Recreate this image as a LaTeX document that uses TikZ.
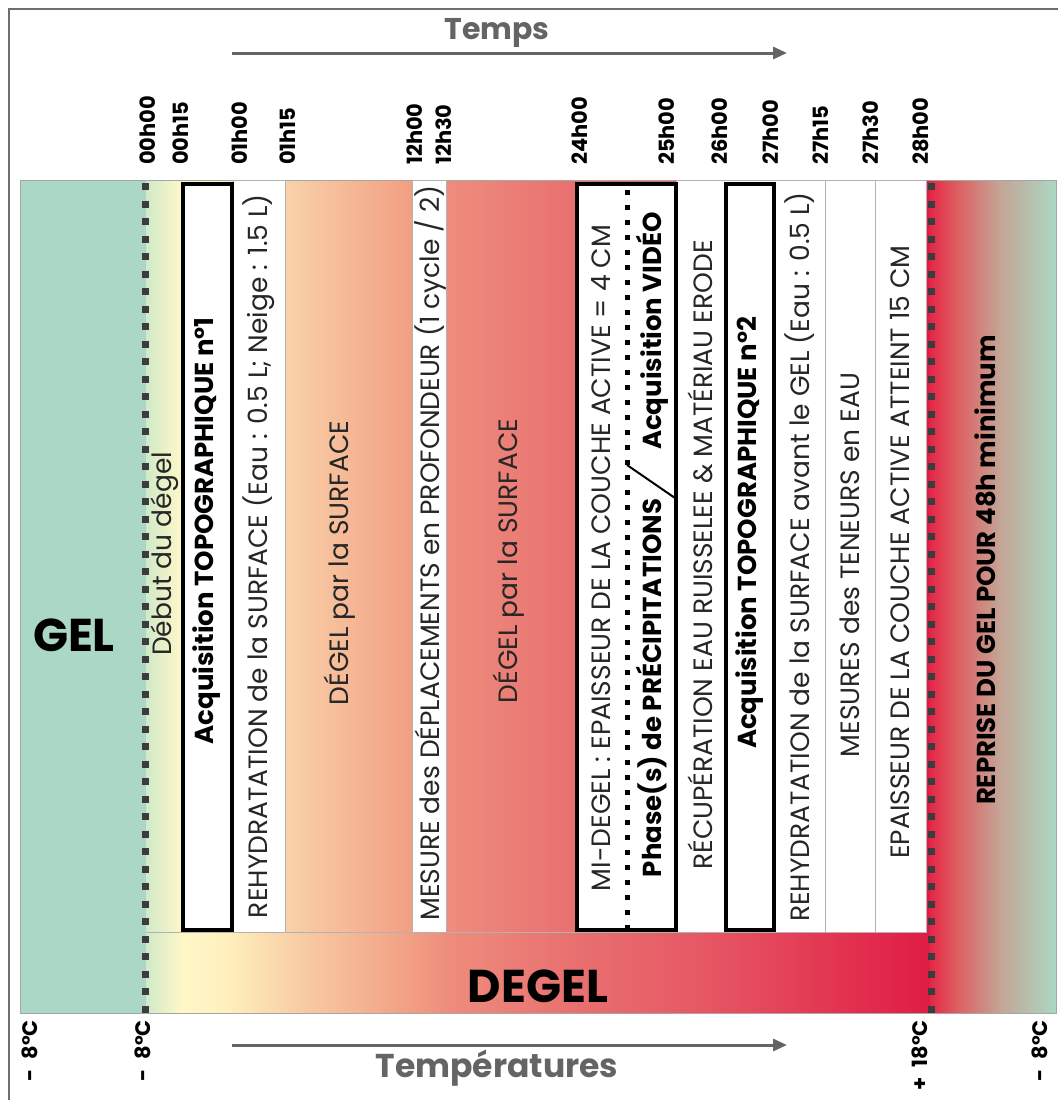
\documentclass[tikz,border=0pt]{standalone}
\usepackage{fontspec}
\setmainfont{Poppins}
\usetikzlibrary{arrows.meta}
\definecolor{gelgreen}{RGB}{170,216,196}
\definecolor{gA}{RGB}{208,234,200}
\definecolor{gB}{RGB}{255,247,200}
\definecolor{gC}{RGB}{255,240,188}
\definecolor{gD}{RGB}{248,205,165}
\definecolor{gE}{RGB}{242,160,132}
\definecolor{gF}{RGB}{238,140,125}
\definecolor{gG}{RGB}{232,112,112}
\definecolor{gH}{RGB}{230,88,100}
\definecolor{gI}{RGB}{224,28,68}
\definecolor{rA}{RGB}{228,40,72}
\definecolor{rB}{RGB}{220,100,100}
\definecolor{rC}{RGB}{196,165,150}
\definecolor{framegray}{RGB}{110,110,110}
\definecolor{txtgray}{RGB}{100,100,100}
\definecolor{dotgray}{RGB}{60,60,60}
\pgfdeclarehorizontalshading{degelshade}{100bp}{color(0bp)=(gA); color(25bp)=(gA); color(27.25bp)=(gB); color(30.14bp)=(gC); color(34.64bp)=(gD); color(41.71bp)=(gE); color(44.28bp)=(gF); color(52.31bp)=(gG); color(60.35bp)=(gH); color(75bp)=(gI); color(100bp)=(gI)}
\pgfdeclarehorizontalshading{repriseshade}{100bp}{color(0bp)=(rA); color(25bp)=(rA); color(36.9bp)=(rB); color(52.8bp)=(rC); color(75bp)=(gelgreen); color(100bp)=(gelgreen)}
\tikzset{
  coltext/.style={rotate=90, inner sep=0pt, text=black!85, font=\fontsize{26.5}{26.5}\selectfont},
  colbold/.style={rotate=90, inner sep=0pt, text=black, font=\fontsize{26}{26}\selectfont\bfseries},
  timelabel/.style={rotate=90, anchor=west, inner sep=0pt, font=\fontsize{21}{21}\selectfont\bfseries},
  templabel/.style={rotate=90, anchor=east, inner sep=0pt, font=\fontsize{21}{21}\selectfont\bfseries},
  whitecol/.style={fill=white, draw=black!30, line width=0.8pt},
  thickbox/.style={fill=white, draw=black, line width=4pt},
  squaredots/.style={draw=dotgray, line width=7pt, dash pattern=on 7pt off 10.5pt},
  smalldots/.style={draw=black, line width=5pt, dash pattern=on 5pt off 10pt},
  axisarrow/.style={draw=txtgray, line width=3pt, -{Triangle[length=14pt,width=12pt]}},
  axistitle/.style={text=txtgray, font=\fontsize{30}{30}\selectfont\bfseries, inner sep=0pt}
}
\begin{document}
\begin{tikzpicture}[x=1pt,y=-1pt]
\useasboundingbox[fill=white] (0,0) rectangle (1058,1100);
% frame
\draw[framegray, line width=2pt] (9,1100) -- (9,9) -- (1058,9);
% regions
\fill[gelgreen] (20,180) rectangle (146,1013);
\shade[shading=degelshade] (146,180) rectangle (930,1013);
\shade[shading=repriseshade] (930,180) rectangle (1056,1013);
\draw[black!35, line width=0.8pt] (20,180) rectangle (1056,1013);
% white columns
\draw[whitecol] (233,180) rectangle (285,932);
\draw[whitecol] (412,180) rectangle (446,932);
\draw[whitecol] (676,180) rectangle (926,932);
\draw[black!30, line width=0.8pt] (825,180) -- (825,932);
\draw[black!30, line width=0.8pt] (875,180) -- (875,932);
\draw[black!30, line width=0.8pt] (146,932) -- (926,932);
% thick boxes
\draw[thickbox] (182.5,184) rectangle (232,930);
\draw[thickbox] (577,184) rectangle (676,930);
\draw[thickbox] (725.5,184) rectangle (774,930);
% dotted separators
\coordinate (mdtop) at (627,190);
\coordinate (mdbot) at (627,928);
\draw[smalldots] (mdtop) -- (mdbot);
\coordinate (slA) at (627,465);
\coordinate (slB) at (675,498);
\draw[black, line width=2pt] (slA) -- (slB);
\coordinate (d1top) at (145,183);
\coordinate (d1bot) at (145,1013);
\draw[squaredots] (d1top) -- (d1bot);
\coordinate (d2top) at (931,183);
\coordinate (d2bot) at (931,1013);
\draw[squaredots] (d2top) -- (d2bot);
% column texts
\node[coltext] (deb) at (165,554) {Début du dégel};
\node[colbold] (acq1) at (207,531) {Acquisition TOPOGRAPHIQUE n°1};
\node[coltext] (rehyd1) at (259,556) {REHYDRATATION de la SURFACE (Eau : 0.5 L; Neige : 1.5 L)};
\node[coltext] (deg1) at (340,563) {DÉGEL par la SURFACE};
\node[coltext] (mes) at (430,553) {MESURE des DÉPLACEMENTS en PROFONDEUR (1 cycle / 2)};
\node[coltext] (deg2) at (509,561) {DÉGEL par la SURFACE};
\node[coltext] (mid) at (601,558) {MI-DEGEL : EPAISSEUR DE LA COUCHE ACTIVE = 4 CM};
\node[colbold] (phase) at (652,688) {Phase(s) de PRÉCIPITATIONS};
\node[colbold] (video) at (652,331) {Acquisition VIDÉO};
\node[coltext] (recup) at (700,555) {RÉCUPÉRATION EAU RUISSELEE \& MATÉRIAU ERODE};
\node[colbold] (acq2) at (750,533) {Acquisition TOPOGRAPHIQUE n°2};
\node[coltext] (rehyd2) at (800,557) {REHYDRATATION de la SURFACE avant le GEL (Eau : 0.5 L)};
\node[coltext] (mesteneur) at (850,565) {MESURES des TENEURS en EAU};
\node[coltext] (epais) at (900,552) {EPAISSEUR DE LA COUCHE ACTIVE ATTEINT 15 CM};
\node[colbold] (reprise) at (985,570) {REPRISE DU GEL POUR 48h minimum};
% big labels
\node[inner sep=0pt, font=\fontsize{46}{46}\selectfont\bfseries] (gel) at (74,635) {GEL};
\node[inner sep=0pt, font=\fontsize{46}{46}\selectfont\bfseries] (degel) at (538,986) {DEGEL};
% time labels
\node[timelabel] (t0000) at (148,165) {00h00};
\node[timelabel] (t0015) at (181,165) {00h15};
\node[timelabel] (t0100) at (240,165) {01h00};
\node[timelabel] (t0115) at (288,165) {01h15};
\node[timelabel] (t1200) at (415,165) {12h00};
\node[timelabel] (t1230) at (444,165) {12h30};
\node[timelabel] (t2400) at (580,165) {24h00};
\node[timelabel] (t2500) at (667,165) {25h00};
\node[timelabel] (t2600) at (720,165) {26h00};
\node[timelabel] (t2700) at (771,165) {27h00};
\node[timelabel] (t2715) at (821,165) {27h15};
\node[timelabel] (t2730) at (871,165) {27h30};
\node[timelabel] (t2800) at (921,165) {28h00};
% temperature labels
\node[templabel] (tc1) at (30,1020) {-\hspace{0.45em}8°C};
\node[templabel] (tc2) at (143,1020) {-\hspace{0.45em}8°C};
\node[templabel] (tc3) at (920,1020) {+\hspace{0.45em}18°C};
\node[templabel] (tc4) at (1040,1020) {-\hspace{0.45em}8°C};
% axes
\node[axistitle] (temps) at (497,33) {Temps};
\coordinate (taS) at (232,53);
\coordinate (taE) at (787,53);
\draw[axisarrow] (taS) -- (taE);
\node[axistitle, font=\fontsize{33}{33}\selectfont\bfseries] (temper) at (497,1068) {Températures};
\coordinate (tbS) at (232,1045);
\coordinate (tbE) at (787,1045);
\draw[axisarrow] (tbS) -- (tbE);
\end{tikzpicture}
\end{document}
